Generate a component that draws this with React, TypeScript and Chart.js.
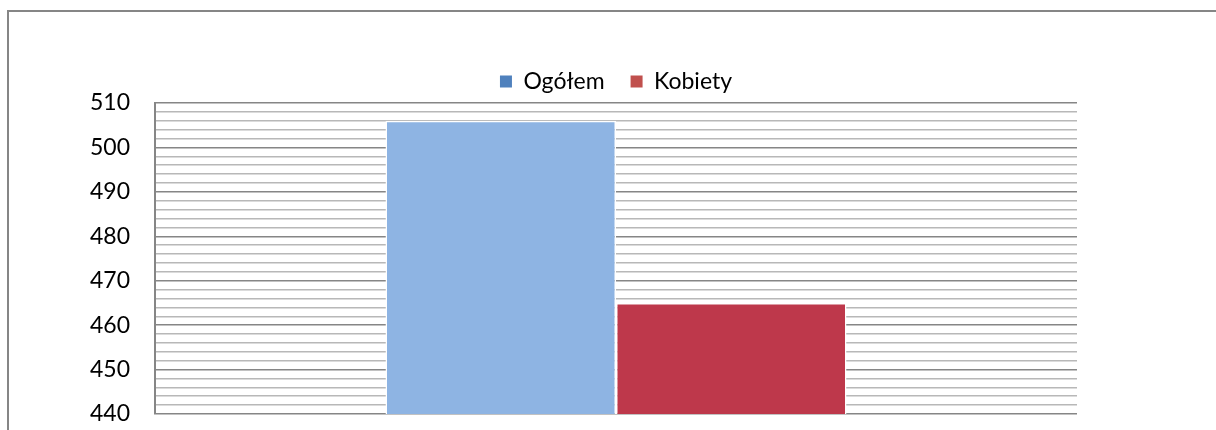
import React, { useEffect, useRef } from "react";
import { Chart, registerables } from "chart.js";

Chart.register(...registerables);

const categories = [""];
const seriesNames = ["Ogółem", "Kobiety"];
const ogolem = [506];
const kobiety = [465];
const yMin = 440;
const yMax = 510;
const yStep = 2;
const majorStep = 10;

const barColors = ["#8EB4E3", "#BE384B"];
const legendColors = ["#4F81BD", "#C0504D"];
const FONT = "Lato, 'Open Sans', sans-serif";

const framePlugin = {
  id: "frame",
  beforeDraw(chart: any) {
    const ctx = chart.ctx;
    ctx.save();
    ctx.strokeStyle = "#868686";
    ctx.lineWidth = 2;
    ctx.beginPath();
    ctx.moveTo(8, chart.height + 5);
    ctx.lineTo(8, 11);
    ctx.lineTo(chart.width + 5, 11);
    ctx.stroke();
    ctx.restore();
  },
};

export default function App() {
  const ref = useRef<HTMLCanvasElement>(null);
  useEffect(() => {
    if (!ref.current) return;
    const chart = new Chart(ref.current, {
      type: "bar",
      data: {
        labels: categories,
        datasets: [
          {
            label: seriesNames[0],
            data: ogolem,
            backgroundColor: barColors[0],
            borderColor: "#FFFFFF",
            borderWidth: 1.5,
            categoryPercentage: 0.5,
            barPercentage: 1,
          },
          {
            label: seriesNames[1],
            data: kobiety,
            backgroundColor: barColors[1],
            borderColor: "#FFFFFF",
            borderWidth: 1.5,
            categoryPercentage: 0.5,
            barPercentage: 1,
          },
        ],
      },
      options: {
        animation: false,
        responsive: false,
        maintainAspectRatio: false,
        layout: { padding: { left: 0, right: 139, top: 44, bottom: 16 } },
        plugins: {
          tooltip: { enabled: false },
          legend: {
            position: "top",
            fullSize: false,
            labels: {
              boxWidth: 12,
              boxHeight: 12,
              padding: 26,
              color: "#000",
              font: { family: FONT, size: 23 },
              generateLabels: (c: any) =>
                c.data.datasets.map((d: any, i: number) => ({
                  text: d.label,
                  fillStyle: legendColors[i],
                  strokeStyle: legendColors[i],
                  lineWidth: 0,
                  datasetIndex: i,
                  hidden: false,
                })),
            },
          },
        },
        scales: {
          x: {
            display: false,
          },
          y: {
            min: yMin,
            max: yMax,
            afterFit: (s: any) => {
              s.width = 155;
              s.paddingTop = 0;
              s.paddingBottom = 0;
            },
            border: { display: true, color: "#868686", width: 2 },
            grid: {
              drawTicks: false,
              lineWidth: 1.5,
              color: (ctx: any) =>
                ctx.tick && ctx.tick.value % majorStep === 0 ? "#868686" : "#B8B8B8",
            },
            ticks: {
              stepSize: yStep,
              autoSkip: false,
              padding: 25,
              color: "#000",
              font: { family: FONT, size: 23 },
              callback: (v: any) => (Number(v) % majorStep === 0 ? String(v) : ""),
            },
          },
        },
      },
      plugins: [framePlugin],
    } as any);
    return () => chart.destroy();
  }, []);
  return (
    <div style={{ position: "absolute", left: 0, top: 0, width: 1216, height: 430 }}>
      <canvas ref={ref} width={1216} height={430} style={{ display: "block" }} />
    </div>
  );
}
